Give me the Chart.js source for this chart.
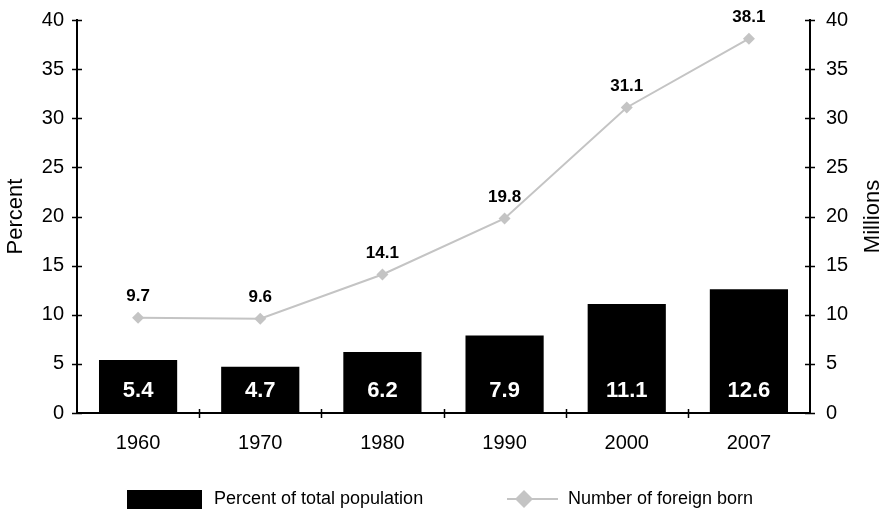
<!DOCTYPE html>
<html>
<head>
<meta charset="utf-8">
<script src="https://cdn.jsdelivr.net/npm/chart.js@4.4.1/dist/chart.umd.min.js"></script>
<style>
  html, body { margin: 0; padding: 0; background: #fff; }
  #wrap { width: 887px; height: 514px; }
</style>
</head>
<body>
<div id="wrap"><canvas id="chart" width="887" height="514"></canvas></div>
<script>
// Foreign-born population of the United States, 1960–2007
const years = ['1960', '1970', '1980', '1990', '2000', '2007'];
const percentOfPopulation = [5.4, 4.7, 6.2, 7.9, 11.1, 12.6];
const foreignBornMillions = [9.7, 9.6, 14.1, 19.8, 31.1, 38.1];
const axisMax = 40;
const axisStep = 5;

const FONT = '"Liberation Sans", Arial, Helvetica, sans-serif';
const LINE_GREY = '#c4c4c4';

// Tick marks that cross the axis lines, value labels, rotated axis titles and the legend
const decorations = {
  id: 'decorations',
  afterDatasetsDraw(chart) {
    const ctx = chart.ctx;
    const area = chart.chartArea;
    const x = chart.scales.x, yl = chart.scales.y, yr = chart.scales.y1;
    ctx.save();

    // axis tick marks
    ctx.strokeStyle = '#000';
    ctx.lineWidth = 1.5;
    ctx.beginPath();
    yl.ticks.forEach(t => {
      const py = Math.round(yl.getPixelForValue(t.value)) + 0.5;
      ctx.moveTo(area.left - 5, py); ctx.lineTo(area.left + 5, py);
    });
    yr.ticks.forEach(t => {
      const py = Math.round(yr.getPixelForValue(t.value)) + 0.5;
      ctx.moveTo(area.right - 5, py); ctx.lineTo(area.right + 5, py);
    });
    for (let i = 1; i < years.length; i++) {
      const px = Math.round((x.getPixelForValue(i - 1) + x.getPixelForValue(i)) / 2) + 0.5;
      ctx.moveTo(px, area.bottom - 4); ctx.lineTo(px, area.bottom + 5);
    }
    ctx.stroke();

    // values inside the bars
    ctx.fillStyle = '#fff';
    ctx.font = 'bold 22px ' + FONT;
    ctx.textAlign = 'center';
    ctx.textBaseline = 'middle';
    chart.getDatasetMeta(0).data.forEach((bar, i) => {
      ctx.fillText(percentOfPopulation[i].toFixed(1), bar.x, bar.base - 22);
    });

    // values above the line points
    ctx.fillStyle = '#000';
    ctx.font = 'bold 17px ' + FONT;
    chart.getDatasetMeta(1).data.forEach((pt, i) => {
      ctx.fillText(foreignBornMillions[i].toFixed(1), pt.x, pt.y - 21);
    });

    // axis titles, both reading bottom to top
    ctx.font = '22px ' + FONT;
    const midY = (area.top + area.bottom) / 2;
    [['Percent', 16], ['Millions', 873]].forEach(([txt, cx]) => {
      ctx.save();
      ctx.translate(cx, midY);
      ctx.rotate(-Math.PI / 2);
      ctx.fillText(txt, 0, 0);
      ctx.restore();
    });

    // legend
    const ly = 499;
    ctx.fillStyle = '#000';
    ctx.fillRect(127, 490, 75, 19);
    ctx.font = '18px ' + FONT;
    ctx.textAlign = 'left';
    ctx.fillText(chart.data.datasets[0].label, 214, ly);
    ctx.strokeStyle = LINE_GREY;
    ctx.lineWidth = 2;
    ctx.beginPath();
    ctx.moveTo(507, ly); ctx.lineTo(558, ly);
    ctx.stroke();
    ctx.fillStyle = LINE_GREY;
    ctx.beginPath();
    ctx.moveTo(524, ly - 9); ctx.lineTo(533, ly); ctx.lineTo(524, ly + 9); ctx.lineTo(515, ly);
    ctx.closePath();
    ctx.fill();
    ctx.fillStyle = '#000';
    ctx.fillText(chart.data.datasets[1].label, 568, ly);

    ctx.restore();
  }
};

const tickFont = { family: FONT, size: 20 };

// fixed axis sizes so the plot area spans x 77–810 and y 20–413
function fitVertical(s) { s.width = 77; s.paddingTop = 0; s.paddingBottom = 0; }
function fitHorizontal(s) { s.height = 101; s.paddingLeft = 0; s.paddingRight = 0; }

new Chart(document.getElementById('chart'), {
  data: {
    labels: years,
    datasets: [
      {
        type: 'bar',
        label: 'Percent of total population',
        data: percentOfPopulation,
        yAxisID: 'y',
        backgroundColor: '#000',
        borderWidth: 0,
        categoryPercentage: 1,
        barPercentage: 0.64,
        order: 2
      },
      {
        type: 'line',
        label: 'Number of foreign born',
        data: foreignBornMillions,
        yAxisID: 'y1',
        borderColor: LINE_GREY,
        borderWidth: 2,
        backgroundColor: LINE_GREY,
        pointStyle: 'rectRot',
        pointRadius: 6,
        pointBorderWidth: 0,
        pointBackgroundColor: LINE_GREY,
        tension: 0,
        order: 1
      }
    ]
  },
  options: {
    responsive: false,
    animation: false,
    layout: { padding: { top: 20, left: 0, right: 0, bottom: 0 } },
    plugins: { legend: { display: false }, tooltip: { enabled: false } },
    scales: {
      x: {
        offset: true,
        grid: { display: false, drawTicks: false },
        border: { display: true, color: '#000', width: 2 },
        ticks: { color: '#000', font: tickFont, padding: 18, maxRotation: 0 },
        afterFit: fitHorizontal
      },
      y: {
        position: 'left',
        min: 0, max: axisMax,
        grid: { display: false, drawTicks: false },
        border: { display: true, color: '#000', width: 2 },
        ticks: { stepSize: axisStep, color: '#000', font: tickFont, padding: 13 },
        afterFit: fitVertical
      },
      y1: {
        position: 'right',
        min: 0, max: axisMax,
        grid: { display: false, drawTicks: false },
        border: { display: true, color: '#000', width: 2 },
        ticks: { stepSize: axisStep, color: '#000', font: tickFont, padding: 16 },
        afterFit: fitVertical
      }
    }
  },
  plugins: [decorations]
});
</script>
</body>
</html>
